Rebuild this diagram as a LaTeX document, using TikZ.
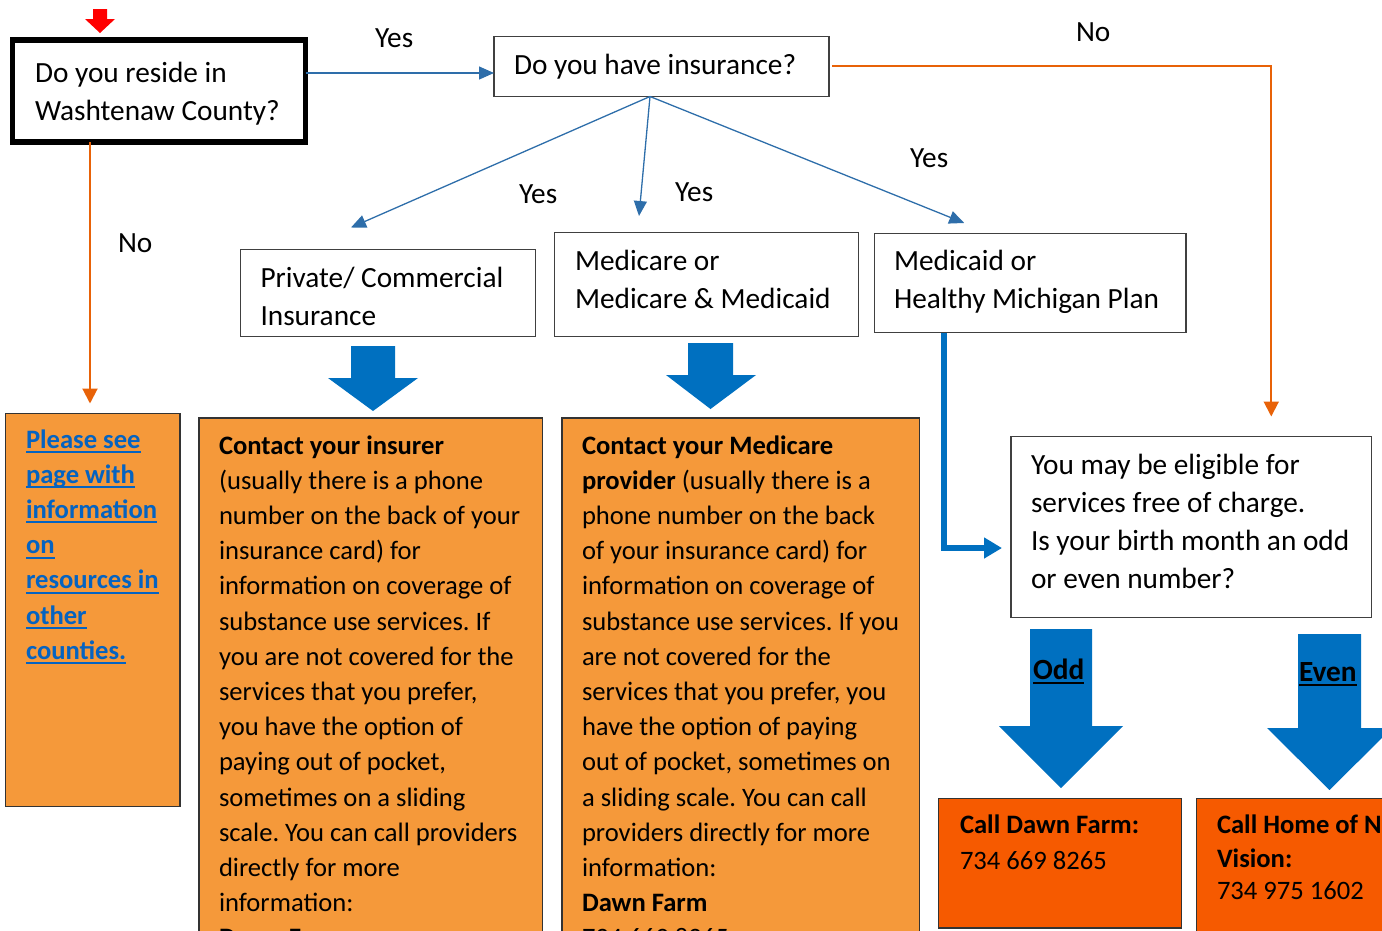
\documentclass[tikz,border=0pt]{standalone}
\usepackage{fontspec}
\setmainfont{Carlito}
\usetikzlibrary{arrows.meta,calc}
\definecolor{lightorange}{RGB}{245,153,58}
\definecolor{darkorange}{RGB}{246,90,0}
\definecolor{blockblue}{RGB}{0,112,192}
\definecolor{linkblue}{RGB}{5,99,193}
\definecolor{yesblue}{RGB}{46,110,170}
\definecolor{noorange}{RGB}{232,98,8}
% left-aligned stack of lines whose baseline is the first line
\newcommand\rows[1]{\begin{tabular}[t]{@{}l@{}}#1\end{tabular}}
% Word-style underline at a fixed distance below the baseline
\newcommand\ulword[1]{\setbox0=\hbox{#1}\rlap{\rule[-5pt]{\wd0}{2pt}}\box0}
\frenchspacing
\begin{document}
\begin{tikzpicture}[x=1pt,y=-1pt,
  whitebox/.style={draw=black!75,line width=1.5pt,fill=white,inner sep=0,outer sep=0,rectangle},
  orangebox/.style={draw=black!80,line width=1.5pt,fill=lightorange,inner sep=0,outer sep=0,rectangle},
  callbox/.style={draw=black!80,line width=1.5pt,fill=darkorange,inner sep=0,outer sep=0,rectangle},
  boxtext/.style={anchor=base west,inner sep=0,outer sep=0,font=\fontsize{29.3}{38.3}\selectfont},
  bodytext/.style={anchor=base west,inner sep=0,outer sep=0,font=\fontsize{26.6}{35.2}\selectfont},
  label/.style={anchor=base west,inner sep=0,outer sep=0,font=\fontsize{29.3}{35.2}\selectfont},
  yesline/.style={draw=yesblue,line width=1.3pt,-{Triangle[length=15pt,width=13pt]}},
  noline/.style={draw=noorange,line width=2pt,-{Triangle[length=15pt,width=15pt]}},
  thickline/.style={draw=blockblue,line width=6pt,-{Triangle[length=18pt,width=20pt]}},
  blockarrow/.style={fill=blockblue}]
\useasboundingbox (0,0) rectangle (1382,930);
\clip (0,0) rectangle (1382,930);

% start marker
\fill[red] (93,9) -- (107,9) -- (107,19) -- (115,19) -- (100,33) -- (85,19) -- (93,19) -- cycle;

% question and insurance boxes
\node[whitebox,draw=black,line width=5.5pt,minimum width=293pt,minimum height=102pt] (q1) at (159,91) {};
\node[whitebox,minimum width=335pt,minimum height=60pt] (q2) at (661.5,66.5) {};
\node[whitebox,minimum width=295pt,minimum height=87pt] (priv) at (388,293) {};
\node[whitebox,minimum width=304pt,minimum height=104pt] (mcare) at (706.5,284.5) {};
\node[whitebox,minimum width=311.5pt,minimum height=99pt] (mcaid) at (1030.25,283) {};
\node[whitebox,minimum width=360.5pt,minimum height=181pt] (elig) at (1191.25,527) {};

% result boxes
\node[orangebox,minimum width=174.5pt,minimum height=393pt] (other) at (92.75,610) {};
\node[orangebox,minimum width=343.5pt,minimum height=582pt] (ins) at (370.75,709) {};
\node[orangebox,minimum width=357.5pt,minimum height=582pt] (medi) at (740.75,709) {};
\node[callbox,minimum width=243pt,minimum height=129.5pt] (dawn) at (1060,863.25) {};
\node[callbox,minimum width=303.5pt,minimum height=201.5pt] (home) at (1348.25,899.25) {};

% block arrows
\fill[blockarrow] (351,346) -- (395,346) -- (395,378) -- (418,378) -- (373,411) -- (328,378) -- (351,378) -- cycle;
\fill[blockarrow] (688,343) -- (733,343) -- (733,375) -- (756,375) -- (710.5,409) -- (666,375) -- (688,375) -- cycle;
\fill[blockarrow] (1030,629) -- (1092,629) -- (1092,726) -- (1123,726) -- (1061,788) -- (999,726) -- (1030,726) -- cycle;
\fill[blockarrow] (1298,634) -- (1361,634) -- (1361,728) -- (1392,728) -- (1329.5,790) -- (1267,728) -- (1298,728) -- cycle;

% connectors
\coordinate (yesA) at ([yshift=18pt]q1.east);
\draw[yesline] (yesA) -- (yesA -| q2.west);
\coordinate (noA) at ([xshift=-69pt]q1.south);
\draw[noline,shorten >=10pt] (noA) -- (noA |- other.north);
\draw[noline,shorten >=20pt] ([xshift=3pt,yshift=1pt]q2.east) -| ([xshift=80pt]elig.north);
\coordinate (fork) at ([xshift=-11.5pt]q2.south);
\draw[yesline] (fork) -- ([xshift=-37pt,yshift=22pt]priv.north);
\draw[yesline] (fork) -- ([xshift=-67.5pt,yshift=16.5pt]mcare.north);
\draw[yesline] (fork) -- ([xshift=-66pt,yshift=10.5pt]mcaid.north);
\draw[thickline] ([xshift=-86pt]mcaid.south) |- ([yshift=-21pt,xshift=-9pt]elig.west);

% connector labels
\node[label] (lyes1) at (375,47) {Yes};
\node[label] (lyes2) at (519,203) {Yes};
\node[label] (lyes3) at (675,201) {Yes};
\node[label] (lyes4) at (910,167) {Yes};
\node[label] (lno1) at (1076,41) {No};
\node[label] (lno2) at (118,252) {No};

% box texts
\node[boxtext] (tq1) at (35,82) {\rows{Do you reside in\\Washtenaw County?}};
\node[boxtext] (tq2) at (514,74) {Do you have insurance?};
\node[boxtext] (tpriv) at (260.5,287) {\rows{Private/ Commercial\\Insurance}};
\node[boxtext] (tmcare) at (575,270) {\rows{Medicare or\\Medicare \& Medicaid}};
\node[boxtext] (tmcaid) at (894,270) {\rows{Medicaid or\\Healthy Michigan Plan}};
\node[boxtext] (telig) at (1031,474) {\rows{You may be eligible for\\services free of charge.\\Is your birth month an odd\\or even number?}};

\node[bodytext,text=linkblue,font=\fontsize{26.6}{35.2}\selectfont\bfseries] (tother) at (26,448)
  {\rows{\ulword{Please see}\\\ulword{page with}\\\ulword{information}\\\ulword{on}\\\ulword{resources in}\\\ulword{other}\\\ulword{counties.}}};

\node[bodytext] (tins) at (219,454) {\rows{\textbf{Contact your insurer}\\
(usually there is a phone\\
number on the back of your\\
insurance card) for\\
information on coverage of\\
substance use services. If\\
you are not covered for the\\
services that you prefer,\\
you have the option of\\
paying out of pocket,\\
sometimes on a sliding\\
scale. You can call providers\\
directly for more\\
information:\\
\textbf{Dawn Farm}}};

\node[bodytext] (tmedi) at (582,454) {\rows{\textbf{Contact your Medicare}\\
\textbf{provider} (usually there is a\\
phone number on the back\\
of your insurance card) for\\
information on coverage of\\
substance use services. If you\\
are not covered for the\\
services that you prefer, you\\
have the option of paying\\
out of pocket, sometimes on\\
a sliding scale. You can call\\
providers directly for more\\
information:\\
\textbf{Dawn Farm}\\
734 669 8265}};

\node[label,font=\fontsize{29.3}{35.2}\selectfont\bfseries] (todd) at (1033,679) {\ulword{Odd}};
\node[label,font=\fontsize{29.3}{35.2}\selectfont\bfseries] (teven) at (1299,681) {\ulword{Even}};

\node[bodytext] (tdawn1) at (960,833) {\textbf{Call Dawn Farm:}};
\node[bodytext] (tdawn2) at (960,869) {734 669 8265};
\node[bodytext] (thome1) at (1217,833) {\textbf{Call Home of New}};
\node[bodytext] (thome2) at (1217,867) {\textbf{Vision:}};
\node[bodytext] (thome3) at (1217,899) {734 975 1602};
\end{tikzpicture}
\end{document}
